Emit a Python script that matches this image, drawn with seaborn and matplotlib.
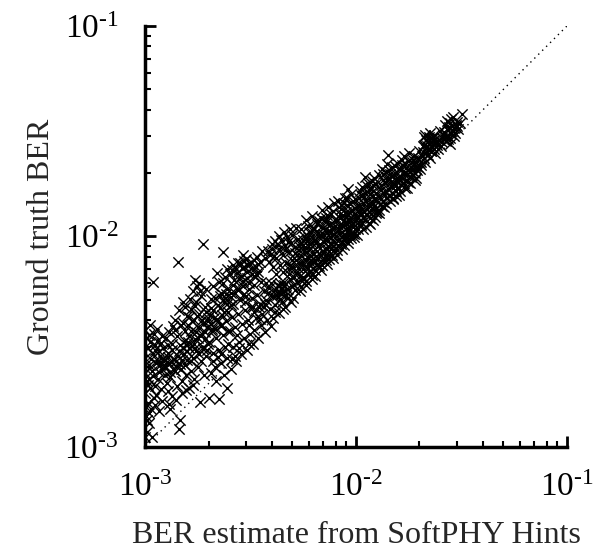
import seaborn as sns
import matplotlib.pyplot as plt
import matplotlib.ticker as mticker
import pandas as pd

sns.set_theme(style="white")
plt.rcParams['font.family'] = ['Liberation Serif', 'DejaVu Serif']
plt.rcParams['mathtext.fontset'] = 'custom'
plt.rcParams['mathtext.rm'] = 'Liberation Serif'
plt.rcParams['mathtext.it'] = 'Liberation Serif:italic'
plt.rcParams['mathtext.bf'] = 'Liberation Serif:bold'

# (BER estimate, ground truth BER), both in units of 1e-3
band_a = [(1.00, 1.12), (1.02, 1.18), (1.08, 1.12), (1.05, 1.45), (1.01, 1.55), (1.03, 1.62),
          (1.10, 1.70), (1.00, 1.80), (1.06, 1.90), (1.12, 1.95), (1.02, 2.05), (1.15, 2.10),
          (1.00, 2.25), (1.08, 2.30), (1.20, 2.35), (1.04, 2.45), (1.13, 2.50), (1.22, 2.55),
          (1.00, 2.65), (1.09, 2.75), (1.18, 2.70), (1.25, 2.60), (1.03, 2.95), (1.12, 3.05),
          (1.02, 3.30), (1.10, 3.45), (1.00, 3.60), (1.06, 3.80), (1.14, 3.20), (1.09, 6.10),
          (1.20, 1.65), (1.24, 2.20), (1.16, 1.48), (1.05, 1.30), (1.22, 2.95)]
band_b = [(1.30, 1.60), (1.35, 1.75), (1.28, 1.85), (1.42, 1.95), (1.50, 2.05), (1.32, 2.15),
          (1.38, 2.30), (1.48, 2.35), (1.55, 2.45), (1.30, 2.50), (1.40, 2.55), (1.58, 2.60),
          (1.28, 2.80), (1.45, 2.85), (1.52, 2.95), (1.35, 3.10), (1.60, 3.15), (1.42, 3.35),
          (1.30, 3.50), (1.55, 3.55), (1.48, 3.80), (1.38, 4.00), (1.58, 4.20), (1.45, 4.45),
          (1.52, 4.90), (1.45, 1.22), (1.46, 1.34), (1.43, 7.60), (1.50, 1.80), (1.36, 3.75),
          (1.56, 2.20)]
band_c = [(1.62, 1.90), (1.70, 2.10), (1.65, 2.30), (1.78, 2.40), (1.85, 2.55), (1.68, 2.65),
          (1.95, 2.70), (1.75, 2.85), (1.62, 2.95), (1.88, 3.00), (1.98, 3.10), (1.72, 3.25),
          (1.82, 3.40), (1.92, 3.50), (1.65, 3.55), (1.78, 3.70), (1.88, 3.85), (1.70, 4.00),
          (1.98, 4.10), (1.80, 4.30), (1.65, 4.50), (1.92, 4.60), (1.75, 4.90), (1.85, 5.20),
          (1.68, 5.50), (1.95, 5.60), (1.80, 6.00), (1.72, 6.20), (1.88, 9.20), (1.82, 1.64),
          (2.00, 1.71), (1.90, 2.20), (1.60, 3.80)]
band_d = [(2.05, 2.25), (2.15, 2.40), (2.30, 2.50), (2.45, 2.65), (2.10, 2.80), (2.25, 2.90),
          (2.40, 3.00), (2.02, 3.15), (2.18, 3.30), (2.35, 3.40), (2.48, 3.55), (2.08, 3.65),
          (2.28, 3.80), (2.42, 3.95), (2.12, 4.10), (2.32, 4.25), (2.48, 4.40), (2.05, 4.55),
          (2.22, 4.70), (2.38, 4.90), (2.15, 5.10), (2.30, 5.40), (2.45, 5.60), (2.10, 5.80),
          (2.25, 6.10), (2.40, 6.40), (2.20, 6.70), (2.46, 7.00), (2.34, 8.40), (2.24, 1.69),
          (2.45, 1.90), (2.17, 2.06), (2.36, 2.20)]
band_e = [(2.55, 2.35), (2.70, 2.55), (2.85, 2.75), (3.05, 2.90), (2.60, 3.00), (2.78, 3.15),
          (2.95, 3.30), (3.15, 3.45), (2.52, 3.55), (2.68, 3.70), (2.88, 3.85), (3.08, 4.00),
          (2.58, 4.15), (2.75, 4.30), (2.98, 4.45), (3.18, 4.60), (2.62, 4.80), (2.82, 5.00),
          (3.02, 5.20), (2.55, 5.40), (2.72, 5.60), (2.92, 5.80), (3.12, 6.00), (2.65, 6.20),
          (2.85, 6.50), (3.05, 6.80), (2.58, 6.90), (2.95, 7.20), (3.15, 7.40), (2.75, 7.50),
          (3.00, 7.80), (2.90, 8.20), (3.10, 3.10), (2.66, 2.70)]
band_f = [(3.25, 3.10), (3.45, 3.30), (3.70, 3.50), (3.95, 3.75), (3.30, 3.60), (3.55, 3.80),
          (3.80, 4.00), (3.35, 4.10), (3.60, 4.30), (3.90, 4.50), (3.25, 4.60), (3.50, 4.80),
          (3.75, 5.00), (3.98, 5.20), (3.40, 5.30), (3.65, 5.50), (3.88, 5.70), (3.30, 5.90),
          (3.55, 6.10), (3.28, 6.50), (3.45, 6.80), (3.35, 7.20), (3.50, 7.60), (3.70, 7.90),
          (3.90, 8.20), (3.60, 8.50), (3.85, 7.60), (3.40, 8.00), (3.75, 6.00), (3.95, 6.00),
          (3.65, 4.60)]
band_g = [(4.05, 4.10), (4.30, 4.35), (4.60, 4.60), (4.90, 4.90), (4.15, 4.70), (4.45, 4.90),
          (4.75, 5.10), (4.10, 5.20), (4.40, 5.40), (4.70, 5.60), (4.95, 5.80), (4.25, 5.90),
          (4.55, 6.10), (4.85, 6.30), (4.20, 6.60), (4.50, 6.80), (4.80, 7.00), (4.35, 7.30),
          (4.65, 7.50), (4.95, 7.70), (4.20, 7.90), (4.50, 8.20), (4.80, 8.40), (4.30, 8.70),
          (4.60, 9.00), (4.90, 9.30), (4.40, 9.60), (4.70, 9.90), (4.55, 10.5), (4.85, 10.8),
          (4.45, 5.70), (4.65, 5.30), (4.35, 5.05)]
band_h = [(5.05, 5.10), (5.40, 5.50), (5.80, 5.90), (6.20, 6.30), (5.10, 5.90), (5.50, 6.20),
          (5.90, 6.60), (5.20, 6.70), (5.60, 7.00), (6.00, 7.30), (5.05, 7.20), (5.35, 7.50),
          (5.75, 7.80), (6.15, 8.10), (5.25, 8.20), (5.65, 8.50), (6.05, 8.80), (5.15, 8.90),
          (5.45, 9.20), (5.85, 9.50), (6.25, 9.80), (5.30, 9.70), (5.70, 10.1), (6.10, 10.5),
          (5.50, 10.8), (5.90, 11.2), (5.20, 11.0), (5.80, 12.0), (6.20, 12.5), (5.40, 6.50),
          (5.95, 7.90), (6.25, 7.10)]
band_i = [(6.40, 6.50), (6.80, 6.90), (7.30, 7.40), (7.80, 7.90), (6.50, 7.30), (6.95, 7.70),
          (7.45, 8.20), (7.90, 8.60), (6.45, 8.10), (6.90, 8.50), (7.40, 9.00), (7.85, 9.40),
          (6.60, 9.00), (7.05, 9.40), (7.55, 9.90), (6.35, 9.60), (6.80, 10.0), (7.25, 10.4),
          (7.70, 10.9), (6.55, 10.6), (7.00, 11.0), (7.50, 11.5), (7.95, 12.0), (6.70, 11.8),
          (7.20, 12.3), (7.65, 12.8), (6.90, 13.3), (7.40, 13.8), (7.85, 14.5), (7.10, 8.10),
          (7.60, 8.70), (6.60, 7.80)]
band_j = [(8.10, 8.20), (8.60, 8.70), (9.20, 9.30), (9.80, 9.90), (8.20, 9.10), (8.75, 9.60),
          (9.35, 10.2), (9.90, 10.8), (8.05, 10.0), (8.55, 10.5), (9.10, 11.0), (9.70, 11.6),
          (8.30, 11.2), (8.85, 11.7), (9.45, 12.3), (8.15, 12.0), (8.70, 12.6), (9.30, 13.1),
          (9.90, 13.7), (8.45, 13.5), (9.05, 14.1), (9.65, 14.7), (8.25, 14.8), (8.90, 15.3),
          (9.50, 15.9), (9.20, 16.8), (8.60, 9.90), (9.60, 10.4)]
band_k = [(10.1, 10.2), (10.8, 10.9), (11.5, 11.6), (12.3, 12.4), (10.3, 11.3), (11.0, 12.0),
          (11.8, 12.8), (12.5, 13.5), (10.2, 12.4), (10.9, 13.1), (11.6, 13.9), (12.4, 14.7),
          (10.5, 14.0), (11.2, 14.8), (12.0, 15.6), (10.3, 15.3), (11.0, 16.1), (11.8, 16.9),
          (12.5, 17.8), (10.7, 17.2), (11.4, 18.0), (12.2, 18.9), (11.0, 19.2), (11.7, 11.5),
          (12.6, 13.0), (10.6, 12.9)]
band_l = [(12.8, 12.9), (13.6, 13.8), (14.5, 14.7), (15.4, 15.6), (13.0, 14.3), (13.9, 15.2),
          (14.8, 16.1), (15.6, 17.0), (12.9, 15.6), (13.7, 16.5), (14.6, 17.4), (15.5, 18.3),
          (13.2, 17.6), (14.1, 18.5), (15.0, 19.4), (13.5, 19.8), (14.4, 20.7), (15.3, 21.6),
          (14.0, 22.0), (14.2, 24.4), (15.0, 15.3), (13.3, 13.9)]
band_m = [(16.0, 15.8), (17.0, 16.9), (18.0, 17.9), (19.2, 19.0), (16.3, 17.5), (17.3, 18.5),
          (18.4, 19.6), (19.5, 20.7), (16.1, 19.3), (17.1, 20.3), (18.2, 21.4), (19.3, 22.5),
          (16.6, 21.8), (17.7, 22.9), (18.8, 24.0), (16.8, 24.0), (17.9, 25.0), (19.8, 25.5),
          (17.5, 17.0), (19.0, 18.5)]
band_n = [(20.2, 21.0), (21.2, 22.5), (22.4, 23.6), (23.6, 24.8), (20.5, 24.0), (21.6, 25.2),
          (22.8, 26.5), (24.0, 27.8), (20.8, 26.8), (21.9, 28.0), (23.0, 29.3), (21.3, 30.5),
          (22.5, 31.0), (23.8, 29.0), (24.5, 26.0), (20.4, 22.6)]
band_o = [(25.3, 27.0), (26.6, 28.5), (28.0, 29.5), (29.5, 31.0), (25.8, 30.5), (27.2, 32.0),
          (28.6, 33.5), (30.0, 35.0), (26.4, 34.0), (28.3, 36.0), (31.7, 38.0), (30.5, 32.5),
          (27.8, 27.5), (29.8, 34.0)]
# denser clumps inside the band
clump_low = [(1.18, 2.45), (1.25, 2.38), (1.33, 2.52), (1.41, 2.42), (1.22, 2.62), (1.37, 2.33),
             (1.15, 2.55), (1.29, 2.68), (1.46, 2.48), (1.55, 3.20), (1.62, 3.35), (1.70, 3.10),
             (1.78, 3.28), (1.86, 3.45), (1.58, 3.05), (1.74, 3.52), (1.92, 3.25), (1.97, 3.70),
             (2.05, 3.85), (2.14, 3.62), (2.22, 3.95), (2.08, 3.55), (2.28, 3.75), (1.99, 3.98),
             (1.04, 2.10), (1.07, 2.62), (1.01, 1.40), (1.11, 1.58), (1.19, 1.88), (1.27, 2.02),
             (1.06, 3.15), (1.16, 2.85), (1.34, 2.90), (1.26, 3.30), (1.47, 3.05), (1.39, 3.60),
             (1.52, 3.90), (1.61, 4.15), (1.55, 4.60), (1.73, 4.65), (1.63, 5.05), (1.83, 5.50),
             (1.76, 5.80)]
clump_left = [(1.02, 1.35), (1.07, 1.52), (1.13, 1.76), (1.03, 1.98), (1.09, 2.18), (1.17, 2.28),
              (1.23, 2.44), (1.31, 2.28), (1.04, 2.36), (1.11, 2.88), (1.19, 3.12), (1.05, 3.42),
              (1.14, 3.62), (1.21, 3.35), (1.29, 3.05), (1.36, 2.62), (1.43, 2.72), (1.49, 2.58),
              (1.53, 2.78), (1.59, 2.86), (1.66, 2.55), (1.73, 2.95), (1.81, 2.78), (1.89, 2.92),
              (1.97, 2.88), (1.67, 3.98), (1.76, 4.18), (1.86, 4.02), (1.94, 4.38), (2.03, 4.22),
              (2.11, 4.48), (2.19, 4.05), (2.27, 4.55), (2.37, 4.38), (2.45, 4.78), (2.06, 5.02),
              (2.26, 5.22), (2.43, 5.35), (2.56, 5.15), (2.68, 5.38), (2.80, 5.62), (2.92, 6.12),
              (3.06, 6.32), (3.20, 6.62), (3.38, 6.55), (2.73, 6.72), (2.60, 7.35), (3.82, 8.55),
              (4.00, 8.70), (4.15, 9.55), (1.32, 1.52), (1.40, 1.68), (1.57, 1.87), (1.69, 1.98),
              (2.10, 2.55), (2.22, 2.68), (2.58, 2.62), (2.78, 2.95)]
clump_mid = [(2.82, 7.45), (2.95, 7.65), (3.05, 7.30), (3.18, 7.55), (3.30, 7.75), (3.42, 7.40),
             (2.88, 7.10), (3.22, 7.05), (2.70, 7.00), (4.15, 5.55), (4.28, 5.80), (4.40, 5.35),
             (4.55, 5.90), (4.62, 5.50), (4.22, 5.25), (4.48, 5.65), (4.35, 6.00), (2.40, 5.10),
             (2.55, 4.70), (2.62, 5.90), (2.35, 6.00), (2.78, 6.30), (2.52, 6.60), (2.90, 5.30),
             (3.10, 5.60), (2.98, 4.90), (3.30, 4.40), (3.48, 4.60), (3.52, 4.05), (3.72, 4.80),
             (3.20, 5.10), (3.82, 5.40), (3.10, 3.80), (2.72, 3.40), (2.48, 3.10), (2.30, 2.75),
             (4.10, 8.10), (4.25, 9.10), (4.75, 9.40), (4.05, 7.20), (4.62, 8.60), (4.85, 7.30),
             (3.98, 9.20), (4.30, 10.0), (4.95, 10.2), (4.80, 6.60), (4.50, 4.50), (4.12, 4.40)]
clump_high = [(6.35, 10.8), (6.55, 11.4), (6.75, 10.2), (6.95, 11.0), (7.15, 11.8), (7.35, 10.6),
              (7.55, 11.3), (6.45, 11.9), (6.85, 12.2), (7.25, 11.9), (5.60, 9.10), (5.95, 9.95),
              (6.25, 10.9), (5.35, 8.60), (5.85, 8.40), (6.20, 9.30), (5.55, 7.60), (6.10, 7.50),
              (5.10, 6.40), (5.70, 6.30), (8.40, 12.8), (8.95, 13.0), (9.40, 14.2), (9.85, 15.1),
              (8.80, 14.5), (9.25, 12.1), (9.75, 12.8), (8.35, 10.9), (9.00, 10.1), (9.55, 11.3),
              (10.4, 16.5), (10.9, 15.4), (11.3, 17.3), (11.7, 15.9), (12.1, 16.4), (10.6, 13.6),
              (11.4, 14.2), (12.3, 15.2), (10.1, 13.8), (11.9, 18.4), (12.8, 19.5), (13.3, 21.0),
              (13.9, 20.3), (14.4, 19.0), (14.8, 21.3), (15.3, 20.1), (15.7, 22.4), (16.2, 21.0),
              (16.6, 23.2), (17.1, 22.1), (13.1, 16.7), (13.8, 17.9), (14.6, 18.1), (15.2, 17.7),
              (16.0, 18.8), (16.9, 19.7), (17.6, 20.6), (18.5, 22.6), (19.1, 21.2), (19.7, 23.6),
              (20.9, 27.3), (21.4, 28.8), (21.8, 27.0), (22.2, 29.6), (22.6, 28.2), (23.1, 27.4),
              (21.1, 29.8), (22.0, 26.0), (23.5, 30.2), (24.8, 28.6), (25.5, 29.5), (26.2, 31.3),
              (27.0, 30.1), (27.6, 33.2), (28.8, 31.6), (29.3, 32.8), (26.9, 35.5), (28.9, 37.0)]
clump_upper = [(5.12, 5.55), (5.28, 6.05), (5.47, 5.75), (5.63, 6.45), (5.82, 6.15), (6.05, 6.85),
               (6.22, 6.55), (5.33, 7.05), (5.58, 7.35), (5.93, 7.05), (6.12, 7.75), (5.22, 7.75),
               (5.48, 8.05), (5.73, 8.95), (6.03, 9.25), (5.38, 9.05), (5.63, 9.65), (6.18, 8.45),
               (5.12, 8.35), (5.97, 10.5), (6.42, 6.95), (6.68, 7.25), (6.92, 7.35), (7.18, 7.75),
               (7.42, 7.85), (7.68, 8.15), (6.38, 7.65), (6.72, 8.15), (7.02, 8.45), (7.28, 8.75),
               (7.58, 9.35), (7.82, 9.05), (6.52, 8.55), (6.78, 9.25), (7.12, 9.75), (7.38, 9.55),
               (7.72, 10.2), (6.48, 9.35), (6.98, 10.3), (7.62, 10.5), (7.92, 11.2), (6.62, 10.1),
               (7.32, 12.6), (7.78, 13.2), (8.12, 8.65), (8.48, 9.25), (8.82, 9.15), (9.12, 9.75),
               (9.48, 9.85), (9.82, 10.3), (8.32, 9.75), (8.68, 10.1), (9.02, 10.6), (9.38, 10.7),
               (9.72, 11.1), (8.22, 10.6), (8.58, 11.3), (8.98, 11.5), (9.32, 11.9), (9.88, 12.2),
               (8.42, 12.2), (8.78, 12.0), (9.18, 12.7), (9.62, 13.4), (8.52, 14.1), (9.08, 15.2),
               (10.2, 10.8), (10.6, 11.3), (11.1, 11.1), (11.6, 12.2), (12.1, 12.0), (12.5, 12.9),
               (10.4, 11.9), (10.8, 12.4), (11.3, 12.6), (11.8, 13.4), (12.2, 13.9), (10.3, 13.1),
               (10.8, 14.4), (11.3, 13.5), (11.9, 14.6), (12.4, 16.1), (10.6, 15.7), (11.5, 16.6),
               (12.1, 17.5), (12.9, 13.4), (13.4, 14.6), (13.9, 14.3), (14.4, 15.6), (14.9, 15.1),
               (15.5, 16.5), (13.1, 15.1), (13.6, 15.9), (14.2, 16.8), (14.8, 17.1), (15.4, 17.6),
               (13.4, 18.6), (14.5, 19.9), (15.6, 19.0), (16.2, 16.5), (16.9, 18.0), (17.6, 18.1),
               (18.3, 19.2), (19.0, 20.0), (19.6, 21.4), (16.5, 18.9), (17.4, 19.5), (18.1, 20.4),
               (18.9, 21.8), (16.3, 20.6), (17.2, 21.2), (18.6, 23.2), (20.4, 21.9), (21.1, 23.6),
               (21.9, 24.4), (22.7, 25.4), (23.4, 26.1), (24.2, 27.1), (20.7, 25.2), (21.4, 26.4),
               (22.3, 27.4), (23.2, 28.4), (25.6, 28.0), (26.3, 29.8), (27.3, 28.9), (28.3, 30.8),
               (29.1, 30.0), (30.2, 33.3), (31.0, 34.5), (25.1, 31.8), (27.9, 34.7)]

axis_lims = [1e-3, 1e-1]
tick_vals = [1e-3, 1e-2, 1e-1]
tick_text = ['$10^{\u20103}$', '$10^{\u20102}$', '$10^{\u20101}$']

pts = band_a + band_b + band_c + band_d + band_e + band_f + band_g + band_h \
    + band_i + band_j + band_k + band_l + band_m + band_n + band_o \
    + clump_low + clump_left + clump_mid + clump_high + clump_upper
df = pd.DataFrame(pts, columns=['est', 'truth']) * 1e-3

fig = plt.figure(figsize=(5.94, 5.5), dpi=100)
ax = fig.add_axes([0.2441, 0.1873, 0.7104, 0.7655])
sns.scatterplot(data=df, x='est', y='truth', marker='x', s=55, color='black',
                linewidth=1.0, ax=ax, legend=False)
ax.plot(axis_lims, axis_lims, color='black', lw=1.0, ls=(0, (1, 3)))

ax.set_xscale('log')
ax.set_yscale('log')
ax.set_xlim(axis_lims)
ax.set_ylim(axis_lims)
ax.xaxis.set_major_locator(mticker.FixedLocator(tick_vals))
ax.yaxis.set_major_locator(mticker.FixedLocator(tick_vals))
ax.xaxis.set_major_formatter(mticker.FixedFormatter(tick_text))
ax.yaxis.set_major_formatter(mticker.FixedFormatter(tick_text))
ax.xaxis.set_minor_locator(mticker.LogLocator(base=10, subs=range(2, 10)))
ax.yaxis.set_minor_locator(mticker.LogLocator(base=10, subs=range(2, 10)))
ax.xaxis.set_minor_formatter(mticker.NullFormatter())
ax.yaxis.set_minor_formatter(mticker.NullFormatter())

ax.tick_params(which='major', direction='in', length=8, width=2, labelsize=24,
               colors='black')
ax.tick_params(axis='x', which='major', pad=18)
ax.tick_params(axis='y', which='major', pad=19)
ax.tick_params(which='minor', direction='in', length=4, width=1.5, colors='black')
ax.tick_params(bottom=True, left=True, top=False, right=False, which='both')

sns.despine(ax=ax)
for side in ['left', 'bottom']:
    ax.spines[side].set_linewidth(2.5)
    ax.spines[side].set_color('black')

ax.set_xlabel('BER estimate from SoftPHY Hints', fontsize=23, labelpad=13)
ax.set_ylabel('Ground truth BER', fontsize=23, labelpad=6)

plt.savefig('out.png', dpi=100)
